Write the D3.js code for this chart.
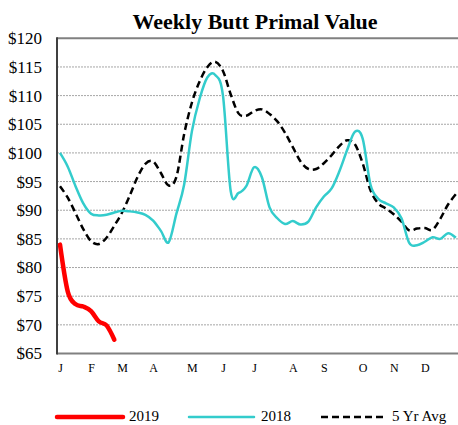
<!DOCTYPE html>
<html>
<head>
<meta charset="utf-8">
<script src="https://cdn.jsdelivr.net/npm/d3@7"></script>
<style>
  body { margin: 0; background: #fff; }
  svg { display: block; font-family: "Liberation Serif", "Times New Roman", serif; }
</style>
</head>
<body>
<script>
// weekly values, week 1 = first week of January
var y2019 = [84, 75.8, 73.6, 73.2, 72.4, 70.6, 69.9, 67.4];

var y2018 = [100, 97.6, 94.2, 91.2, 89.4, 89.1, 89.2, 89.6, 89.9, 89.8,
             89.6, 89.2, 88.2, 86.4, 84.4, 89.4, 94.5, 103.8, 109.5, 113.2,
             113.6, 110, 93.3, 93, 94.2, 97.5, 95.8, 90.5, 88.6, 87.6,
             88.1, 87.5, 88, 90.5, 92.4, 93.8, 96.8, 100.5, 103.7, 102.5,
             94.5, 92, 91.2, 90.5, 88.6, 84.3, 83.9, 84.5, 85.3, 85,
             86, 85.2];

var avg5 = [94.2, 92.2, 89.5, 86.7, 84.6, 84.1, 85.2, 87.3, 89.6, 92.6,
            95.8, 98.1, 98.5, 96.5, 94.3, 95.8, 103.3, 108.8, 112.5, 115,
            115.9, 114.3, 110.2, 106.9, 106.5, 107.3, 107.6, 106.8, 105.5, 103.5,
            101, 98.5, 97.2, 97.2, 98.2, 99.6, 101.2, 102.2, 101.5, 98.2,
            93.5, 91.2, 90.3, 89.3, 88, 86.5, 86.8, 86.9, 86.6, 88.5,
            91, 92.8];

var monthLabels = ["J", "F", "M", "A", "M", "J", "J", "A", "S", "O", "N", "D"];
var monthWeeks = [1, 5, 9, 13, 18, 22, 26, 31, 35, 40, 44, 48];
var yTicks = [65, 70, 75, 80, 85, 90, 95, 100, 105, 110, 115, 120];

var width = 458, height = 425;
var plot = {left: 57, right: 462, top: 38.3, bottom: 353.5};

var svg = d3.select("body").append("svg")
    .attr("width", width)
    .attr("height", height);

var x = d3.scaleLinear().domain([1, 52]).range([60, 455.8]);
var y = d3.scaleLinear().domain([65, 120]).range([plot.bottom, plot.top]);

// title
svg.append("text")
    .attr("x", 255).attr("y", 29)
    .attr("text-anchor", "middle")
    .style("font-size", "22px").style("font-weight", "bold")
    .text("Weekly Butt Primal Value");

// gridlines
svg.append("g").selectAll("line")
    .data(yTicks.filter(function(d){ return d > 65 && d < 120; }))
    .enter().append("line")
    .attr("x1", plot.left).attr("x2", plot.right)
    .attr("y1", function(d){ return y(d); })
    .attr("y2", function(d){ return y(d); })
    .attr("stroke", "#a6a6a6")
    .attr("stroke-width", 1)
    .attr("stroke-dasharray", "2,1");

// frame
svg.append("line")
    .attr("x1", plot.left).attr("x2", plot.right)
    .attr("y1", plot.top).attr("y2", plot.top)
    .attr("stroke", "#808080").attr("stroke-width", 2);
svg.append("line")
    .attr("x1", plot.left).attr("x2", plot.right)
    .attr("y1", plot.bottom).attr("y2", plot.bottom)
    .attr("stroke", "#808080").attr("stroke-width", 2);
svg.append("line")
    .attr("x1", plot.left).attr("x2", plot.left)
    .attr("y1", plot.top - 1).attr("y2", plot.bottom + 1)
    .attr("stroke", "#404040").attr("stroke-width", 2);

// y axis labels
var yAxis = d3.axisLeft(y)
    .tickValues(yTicks)
    .tickFormat(function(d){ return "$" + d; })
    .tickSize(0)
    .tickPadding(15);
var yg = svg.append("g")
    .attr("transform", "translate(" + plot.left + ",0)")
    .call(yAxis);
yg.select(".domain").remove();
yg.selectAll("text")
    .style("font-family", "Liberation Serif, serif")
    .style("font-size", "17px")
    .attr("fill", "#000");

// x axis labels
var xAxis = d3.axisBottom(x)
    .tickValues(monthWeeks)
    .tickFormat(function(d, i){ return monthLabels[i]; })
    .tickSize(0)
    .tickPadding(10);
var xg = svg.append("g")
    .attr("transform", "translate(0," + plot.bottom + ")")
    .call(xAxis);
xg.select(".domain").remove();
xg.selectAll("text")
    .style("font-family", "Liberation Serif, serif")
    .style("font-size", "12px")
    .attr("fill", "#000");

var line = d3.line()
    .x(function(d, i){ return x(i + 1); })
    .y(function(d){ return y(d); })
    .curve(d3.curveCardinal);

svg.append("path").attr("d", line(avg5))
    .attr("fill", "none").attr("stroke", "#000")
    .attr("stroke-width", 2.5).attr("stroke-dasharray", "7,4");

svg.append("path").attr("d", line(y2018))
    .attr("fill", "none").attr("stroke", "#33cccc")
    .attr("stroke-width", 2.5);

svg.append("path").attr("d", line(y2019))
    .attr("fill", "none").attr("stroke", "#ff0000")
    .attr("stroke-width", 4.5).attr("stroke-linecap", "round");

// legend
var legend = [
  {name: "2019", color: "#ff0000", w: 4.5, dash: null, x1: 57, x2: 123, tx: 129},
  {name: "2018", color: "#33cccc", w: 2.5, dash: null, x1: 189, x2: 254, tx: 261},
  {name: "5 Yr Avg", color: "#000", w: 2.5, dash: "7,4", x1: 321, x2: 385, tx: 392}
];
var lg = svg.append("g").selectAll("g").data(legend).enter().append("g");
lg.append("line")
    .attr("x1", function(d){ return d.x1; })
    .attr("x2", function(d){ return d.x2; })
    .attr("y1", 417).attr("y2", 417)
    .attr("stroke", function(d){ return d.color; })
    .attr("stroke-width", function(d){ return d.w; })
    .attr("stroke-linecap", function(d){ return d.dash ? "butt" : "round"; })
    .attr("stroke-dasharray", function(d){ return d.dash; });
lg.append("text")
    .attr("x", function(d){ return d.tx; })
    .attr("y", 421)
    .style("font-size", "15px")
    .text(function(d){ return d.name; });
</script>
</body>
</html>
